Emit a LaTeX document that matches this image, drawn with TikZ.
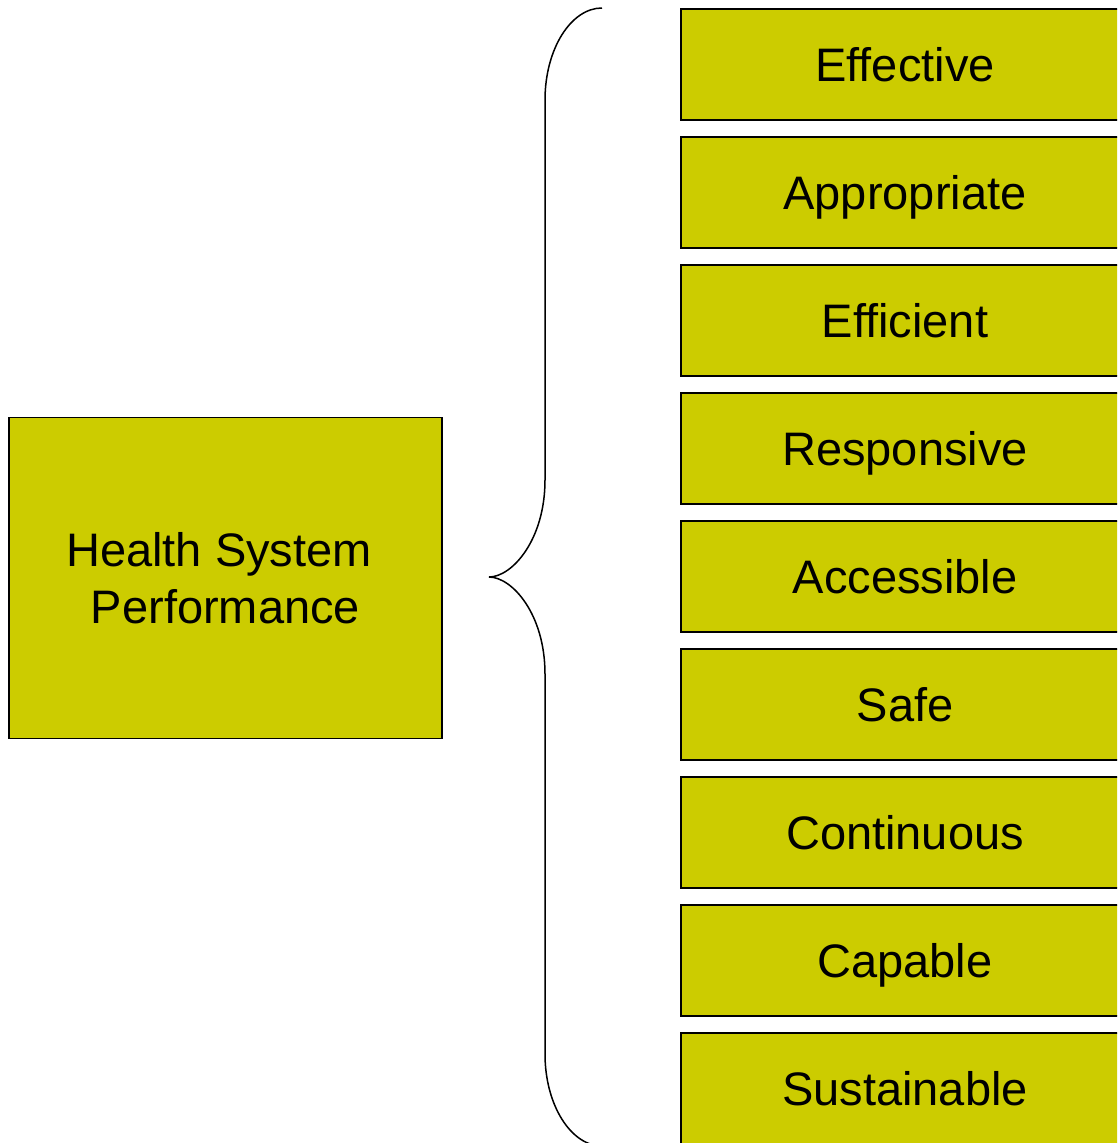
\documentclass[tikz,border=0pt]{standalone}
\usepackage{fontspec}
\setmainfont{Liberation Sans}
\definecolor{boxfill}{HTML}{CCCC00}
\begin{document}
\begin{tikzpicture}[x=1pt,y=-1pt,
  item/.style={draw=black,line width=1.5pt,fill=boxfill,minimum width=448pt,minimum height=111pt,inner sep=0pt,text height=34pt,text depth=0pt,font=\fontsize{47}{56}\selectfont},
  mainbox/.style={draw=black,line width=1.5pt,fill=boxfill,minimum width=433pt,minimum height=321pt,inner sep=0pt,align=center,font=\fontsize{47}{57}\selectfont},
  bracepath/.style={draw=black,line width=1.5pt}]
\useasboundingbox (0,0) rectangle (1117,1143);
\clip (0,0) rectangle (1117,1143);
\node[mainbox] (hsp) at (225.5,578) {Health System\kern13pt\\Performance};
\foreach \t [count=\i from 0] in {Effective,Appropriate,Efficient,Responsive,Accessible,Safe,Continuous,Capable,Sustainable}{
  \node[item] (b\i) at (905,{64.5+128*\i}) {\t};
}
\coordinate (btop) at (602,8);
\coordinate (btip) at (489,577);
\coordinate (bbot) at (602,1146);
\draw[bracepath] (btop) .. controls (571,8) and (545,49) .. (545,100)
  -- (545,480) .. controls (545,540) and (512,577) .. (btip)
  .. controls (512,577) and (545,614) .. (545,674)
  -- (545,1054) .. controls (545,1105) and (571,1146) .. (bbot);
\end{tikzpicture}
\end{document}
